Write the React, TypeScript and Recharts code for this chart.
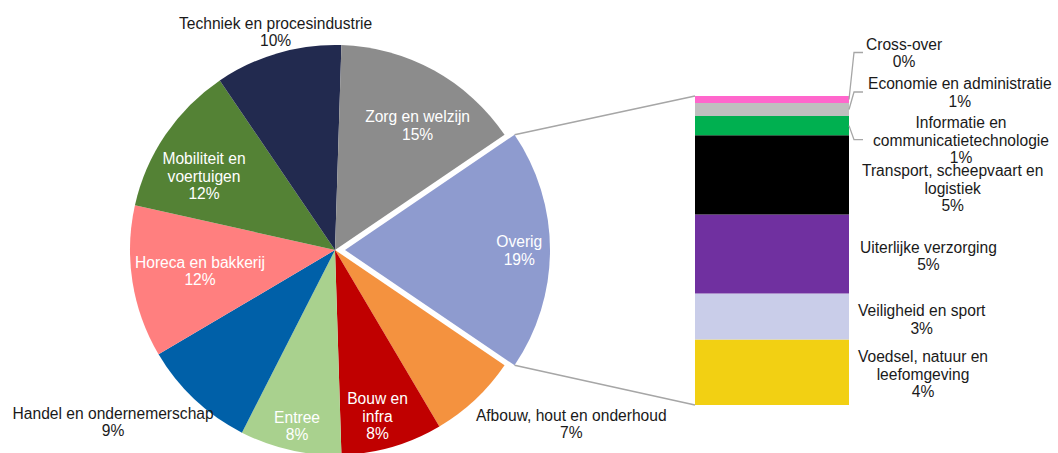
import React from 'react';
import { PieChart, Pie, Cell, BarChart, Bar, XAxis, YAxis, LabelList } from 'recharts';

const W = 1058;
const H = 453;
const FONT = '"Liberation Sans", Arial, sans-serif';
const FS = 15.6;
const LH = 17.5;

// pie, clockwise starting with the exploded "Overig" slice
const pieNames = [
  'Overig',
  'Afbouw, hout en onderhoud',
  'Bouw en infra',
  'Entree',
  'Handel en ondernemerschap',
  'Horeca en bakkerij',
  'Mobiliteit en voertuigen',
  'Techniek en procesindustrie',
  'Zorg en welzijn',
];
const pieValues = [19, 7, 8, 8, 9, 12, 12, 10, 15];
const pieColors = ['#8E9BCF', '#F4923F', '#C00000', '#A9D18E', '#0060A8', '#FF7F7F', '#548235', '#222A4F', '#8C8C8C'];

// breakdown of "Overig", bottom to top
const barNames = [
  'Voedsel, natuur en leefomgeving',
  'Veiligheid en sport',
  'Uiterlijke verzorging',
  'Transport, scheepvaart en logistiek',
  'Informatie en communicatietechnologie',
  'Economie en administratie',
  'Cross-over',
];
const barValues = [4.04, 2.83, 4.86, 4.88, 1.19, 0.8, 0.43];
const barColors = ['#F2D013', '#C9CDE9', '#7030A0', '#000000', '#00B050', '#BFBFBF', '#FF66CC'];

const pieData = pieNames.map((name, i) => ({ name, value: pieValues[i] }));
const barRow: Record<string, number | string> = { name: 'Overig' };
barNames.forEach((n, i) => (barRow[n] = barValues[i]));
const barData = [barRow];

const total = pieValues.reduce((s, v) => s + v, 0);

// geometry
const CX = 335;
const CY = 250;
const R = 205;
const EXPLODE = 10;
const HALF = (pieValues[0] / total) * 180;
const START = HALF;
const END = HALF - 360;

const BAR_LEFT = 695;
const BAR_RIGHT = 849;
const BAR_TOP = 96;
const BAR_BOTTOM = 405;

// label placement: radius factor, angle nudge, wrap width (chars), colour
const pieLabelLayout: Record<string, { k: number; dA: number; wrap: number; color: string }> = {
  Overig: { k: 0.85, dA: 0, wrap: 30, color: '#fff' },
  'Afbouw, hout en onderhoud': { k: 1.43, dA: 10.5, wrap: 30, color: '#1a1a1a' },
  'Bouw en infra': { k: 0.834, dA: -1.8, wrap: 8, color: '#fff' },
  Entree: { k: 0.876, dA: 0.4, wrap: 30, color: '#fff' },
  'Handel en ondernemerschap': { k: 1.368, dA: -9.1, wrap: 30, color: '#1a1a1a' },
  'Horeca en bakkerij': { k: 0.666, dA: -0.4, wrap: 30, color: '#fff' },
  'Mobiliteit en voertuigen': { k: 0.734, dA: 4.7, wrap: 14, color: '#fff' },
  'Techniek en procesindustrie': { k: 1.105, dA: -1, wrap: 30, color: '#1a1a1a' },
  'Zorg en welzijn': { k: 0.73, dA: -4.7, wrap: 30, color: '#fff' },
};

const barLabelLayout: Record<string, { dy: number; gap: number; leader: boolean }> = {
  'Voedsel, natuur en leefomgeving': { dy: 1.5, gap: 9, leader: false },
  'Veiligheid en sport': { dy: 2.5, gap: 9, leader: false },
  'Uiterlijke verzorging': { dy: 1.5, gap: 11, leader: false },
  'Transport, scheepvaart en logistiek': { dy: 13, gap: 13, leader: false },
  'Informatie en communicatietechnologie': { dy: 14, gap: 24, leader: true },
  'Economie en administratie': { dy: -17.5, gap: 19, leader: true },
  'Cross-over': { dy: -47, gap: 17, leader: true },
};

function wrap(text: string, max: number): string[] {
  const words = text.split(' ');
  const lines: string[] = [];
  let cur = '';
  for (const w of words) {
    const next = cur ? cur + ' ' + w : w;
    if (next.length > max && cur) {
      lines.push(cur);
      cur = w;
    } else cur = next;
  }
  if (cur) lines.push(cur);
  return lines;
}

let ctx: CanvasRenderingContext2D | null = null;
function textWidth(s: string) {
  if (!ctx) ctx = document.createElement('canvas').getContext('2d');
  if (!ctx) return s.length * FS * 0.5;
  ctx.font = `${FS}px ${FONT}`;
  return ctx.measureText(s).width;
}

function Lines({ x, y, lines, color }: { x: number; y: number; lines: string[]; color: string }) {
  return (
    <text x={x} y={y} textAnchor="middle" dominantBaseline="central" fill={color} fontSize={FS} fontFamily={FONT}>
      {lines.map((l, i) => (
        <tspan key={i} x={x} y={y + (i - (lines.length - 1) / 2) * LH}>
          {l}
        </tspan>
      ))}
    </text>
  );
}

const pieLabel = (only: 'main' | 'exploded') => (p: any) => {
  const name: string = p.name ?? p.payload?.name;
  const isOverig = name === pieNames[0];
  if ((only === 'main') === isOverig) return <g />;
  const lay = pieLabelLayout[name];
  const a = ((p.midAngle + lay.dA) * Math.PI) / 180;
  const r = p.outerRadius * lay.k;
  const x = p.cx + r * Math.cos(a);
  const y = p.cy - r * Math.sin(a);
  const pct = Math.round((p.value / total) * 100);
  return <Lines x={x} y={y} lines={[...wrap(name, lay.wrap), `${pct}%`]} color={lay.color} />;
};

const barLabel = (name: string) => (p: any) => {
  const lay = barLabelLayout[name];
  const x = Number(p.x);
  const y = Number(p.y);
  const w = Number(p.width);
  const h = Number(p.height);
  const right = x + w;
  const segMid = y + h / 2;
  const ly = segMid + lay.dy;
  const lines = [...wrap(name, 25), `${Math.round((Number(p.value) / total) * 100)}%`];
  const maxW = Math.max(...lines.map(textWidth));
  const cx = right + lay.gap + maxW / 2;
  return (
    <g>
      {lay.leader && (
        <polyline
          points={`${right},${segMid} ${right + 5},${ly} ${right + Math.min(lay.gap - 3, 14)},${ly}`}
          fill="none"
          stroke="#A6A6A6"
          strokeWidth={1.3}
        />
      )}
      <Lines x={cx} y={ly} lines={lines} color="#1a1a1a" />
    </g>
  );
};

export default function App() {
  const exX = CX + EXPLODE * Math.cos(((START - HALF) * Math.PI) / 180);
  const exY = CY - EXPLODE * Math.sin(((START - HALF) * Math.PI) / 180);
  const topA = (START * Math.PI) / 180;
  const botA = ((START - 2 * HALF) * Math.PI) / 180;
  const top = [exX + R * Math.cos(topA), exY - R * Math.sin(topA)];
  const bot = [exX + R * Math.cos(botA), exY - R * Math.sin(botA)];

  return (
    <div style={{ position: 'absolute', left: 0, top: 0, width: W, height: H, background: '#fff', fontFamily: FONT }}>
      <svg width={W} height={H} style={{ position: 'absolute', left: 0, top: 0 }}>
        <line x1={top[0]} y1={top[1]} x2={BAR_LEFT} y2={BAR_TOP} stroke="#A6A6A6" strokeWidth={1.5} />
        <line x1={bot[0]} y1={bot[1]} x2={BAR_LEFT} y2={BAR_BOTTOM} stroke="#A6A6A6" strokeWidth={1.5} />
      </svg>
      <div style={{ position: 'absolute', left: 0, top: 0 }}>
        <PieChart width={W} height={H} margin={{ top: 0, right: 0, bottom: 0, left: 0 }}>
          <Pie
            data={pieData}
            dataKey="value"
            nameKey="name"
            cx={CX}
            cy={CY}
            outerRadius={R}
            startAngle={START}
            endAngle={END}
            stroke="none"
            label={pieLabel('main')}
            labelLine={false}
            isAnimationActive={false}
          >
            {pieData.map((d, i) => (
              <Cell key={d.name} fill={i === 0 ? 'transparent' : pieColors[i]} />
            ))}
          </Pie>
          <Pie
            data={pieData}
            dataKey="value"
            nameKey="name"
            cx={exX}
            cy={exY}
            outerRadius={R}
            startAngle={START}
            endAngle={END}
            stroke="none"
            label={pieLabel('exploded')}
            labelLine={false}
            isAnimationActive={false}
          >
            {pieData.map((d, i) => (
              <Cell key={d.name} fill={i === 0 ? pieColors[0] : 'transparent'} />
            ))}
          </Pie>
        </PieChart>
      </div>
      <div style={{ position: 'absolute', left: 0, top: 0 }}>
        <BarChart
          width={W}
          height={H}
          data={barData}
          margin={{ top: BAR_TOP, left: BAR_LEFT, right: W - BAR_RIGHT, bottom: H - BAR_BOTTOM }}
          barCategoryGap={0}
          barGap={0}
        >
          <XAxis dataKey="name" hide />
          <YAxis hide domain={[0, 'dataMax']} />
          {barNames.map((n, i) => (
            <Bar key={n} dataKey={n} stackId="overig" fill={barColors[i]} isAnimationActive={false}>
              <LabelList dataKey={n} content={barLabel(n)} />
            </Bar>
          ))}
        </BarChart>
      </div>
    </div>
  );
}
